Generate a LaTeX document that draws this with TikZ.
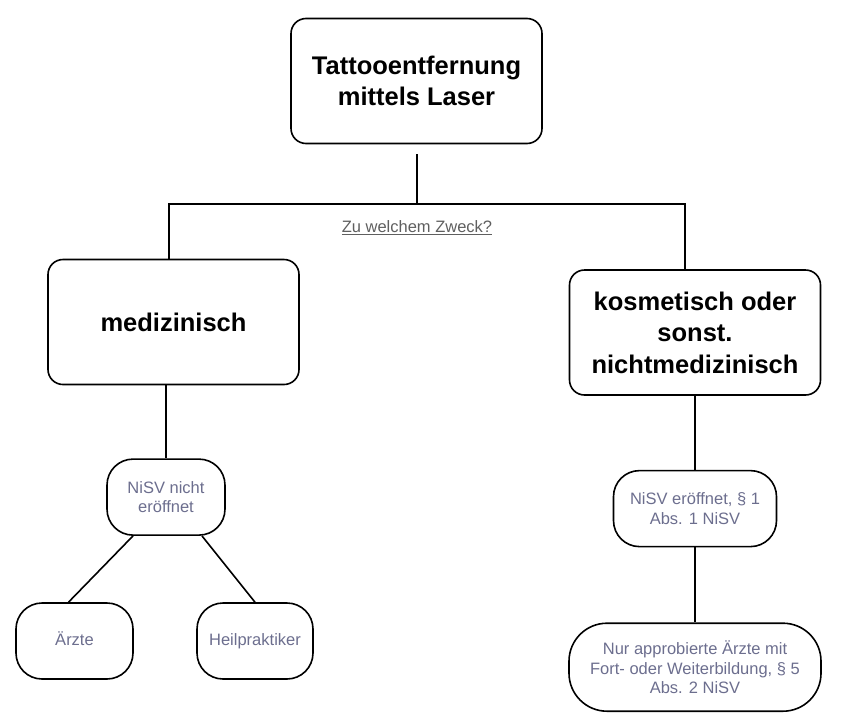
\documentclass[tikz,border=0pt]{standalone}
\usepackage{fontspec}
\setmainfont{Liberation Sans}
\usetikzlibrary{positioning}
\definecolor{labelgray}{HTML}{5F5F5F}
\definecolor{slate}{HTML}{6C6E8E}
\tikzset{
  category/.style={
    rectangle, rounded corners=15pt, draw, line width=1.6pt,
    minimum width=251pt, minimum height=125pt, inner sep=0pt,
    align=center, font=\fontsize{25.5}{31.5}\selectfont\bfseries
  },
  outcome/.style={
    rectangle, rounded corners=#1, draw, line width=1.6pt,
    minimum height=76pt, inner sep=0pt, align=center,
    font=\fontsize{16.5}{19.5}\selectfont, text=slate
  },
  outcome/.default=26pt,
  oneline/.style={text height=12pt, text depth=3.5pt},
  branch/.style={line width=1.6pt}
}
\begin{document}
\begin{tikzpicture}[x=1pt, y=-1pt]
  \useasboundingbox (0,0) rectangle (858,726);

  \node[category] (laser) at (416.5,81) {Tattooentfernung\\mittels Laser};
  \node[category] (med) at (173.5,322) {medizinisch};
  \node[category] (kos) at (695,332.5) {kosmetisch oder\\sonst.\\nichtmedizinisch};

  % Zweck
  \coordinate (fork) at (417,204);
  \draw[branch] ([yshift=-10pt]laser.south -| fork) -- (fork);
  \draw[branch] ([xshift=-4.5pt]med.north) |- (fork) -| ([xshift=-10pt]kos.north);
  \node[font=\fontsize{16.5}{19.5}\selectfont, text=labelgray] (zweck) at (417,228)
    {\underline{Zu welchem Zweck?}};

  % medizinisch
  \node[outcome, minimum width=118pt, below=73pt of med, xshift=-7.5pt] (nisvno) {NiSV nicht\\eröffnet};
  \node[outcome, oneline, minimum width=117pt] (aerzte) at (74.5,641) {Ärzte};
  \node[outcome, oneline, minimum width=116pt] (heil) at (255,641) {Heilpraktiker};
  \draw[branch] (nisvno.north |- med.south) -- (nisvno.north);
  \draw[branch] ([xshift=-33pt]nisvno.south) -- ([xshift=-6pt]aerzte.north);
  \draw[branch] ([xshift=36pt]nisvno.south) -- (heil.north);

  % kosmetisch
  \node[outcome, minimum width=163pt, below=74pt of kos] (nisvyes) {NiSV eröffnet, § 1\\Abs. 1 NiSV};
  \node[outcome=38pt, minimum width=252pt, minimum height=88pt, below=75pt of nisvyes] (nur)
    {Nur approbierte Ärzte mit\\Fort- oder Weiterbildung, § 5\\Abs. 2 NiSV};
  \draw[branch] (kos) -- (nisvyes);
  \draw[branch] (nisvyes) -- (nur);
\end{tikzpicture}
\end{document}
